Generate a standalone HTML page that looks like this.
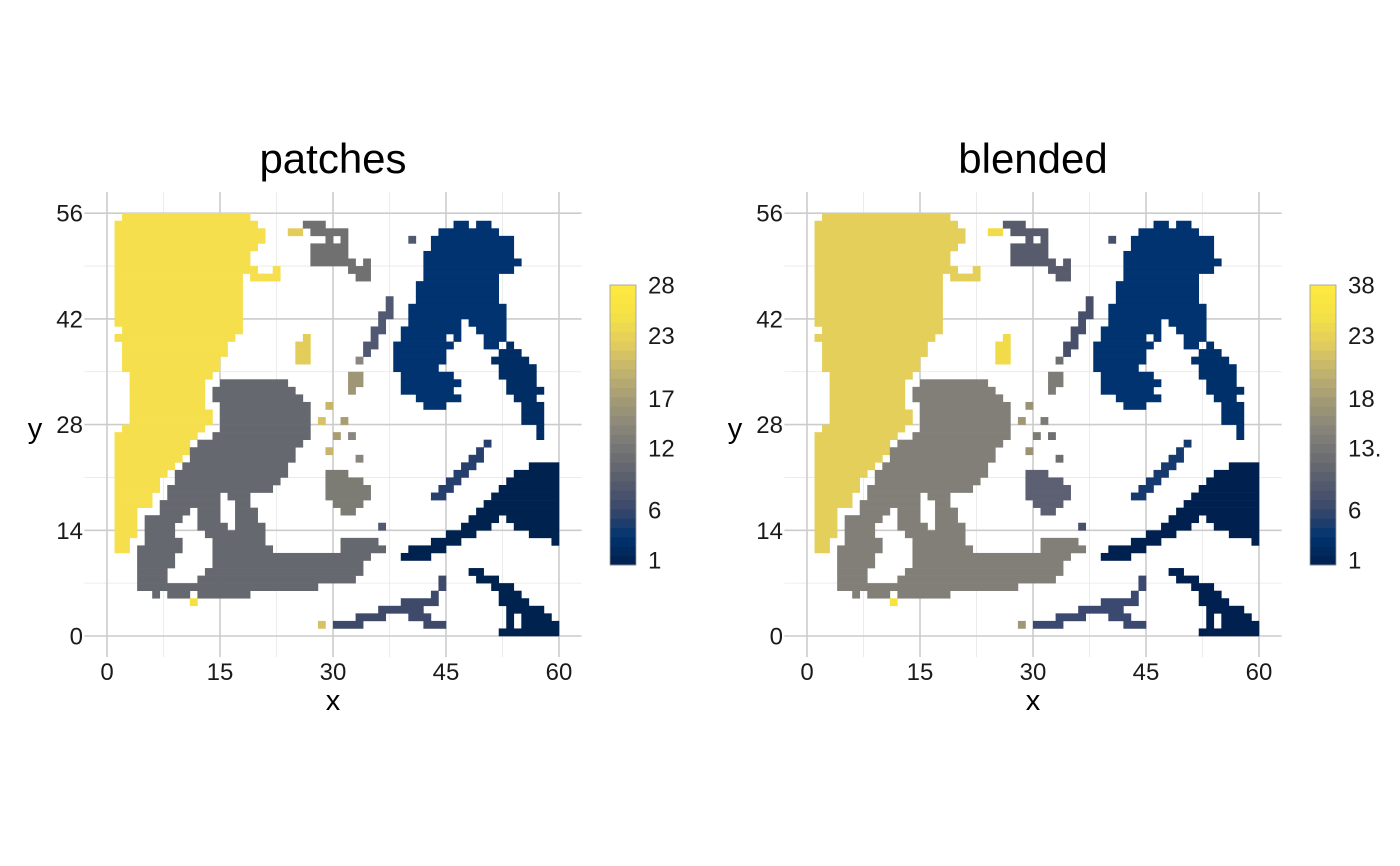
<!DOCTYPE html>
<html><head><meta charset="utf-8"><style>
html,body{margin:0;padding:0;background:#fff;}
svg{display:block;font-family:"Liberation Sans",sans-serif;}
</style></head><body>
<svg id="root" width="1400" height="866" viewBox="0 0 1400 866"></svg>
<script>
// ---- data ----
const panelTitles = ["patches", "blended"];
const xTicks = [0, 15, 30, 45, 60];
const yTicks = [0, 14, 28, 42, 56];
const legendLabelsA = ["28", "23", "17", "12", "6", "1"];
const legendLabelsB = ["38", "23", "18", "13.", "6", "1"];
const legendFrac = [1, 0.82, 0.595, 0.417, 0.196, 0.018];
// raster runs: [row(top=0), colStart, colEnd, patchCode]
const runs = [
[0,2,18,"Y"],
[1,1,19,"Y"],[1,26,28,"g"],[1,46,47,"N"],[1,49,50,"N"],
[2,1,20,"Y"],[2,24,25,"y"],[2,27,31,"g"],[2,44,51,"N"],
[3,1,20,"Y"],[3,29,29,"g"],[3,31,31,"g"],[3,40,40,"s"],[3,43,53,"N"],
[4,1,19,"Y"],[4,27,31,"g"],[4,43,53,"N"],
[5,1,18,"Y"],[5,27,31,"g"],[5,42,53,"N"],
[6,1,18,"Y"],[6,27,32,"g"],[6,34,34,"g"],[6,42,54,"N"],
[7,1,19,"Y"],[7,22,22,"Y"],[7,32,34,"g"],[7,42,53,"N"],
[8,1,17,"Y"],[8,19,22,"Y"],[8,33,34,"g"],[8,42,51,"N"],
[9,1,17,"Y"],[9,41,51,"N"],
[10,1,17,"Y"],[10,41,51,"N"],
[11,1,17,"Y"],[11,37,37,"s"],[11,41,51,"N"],
[12,1,17,"Y"],[12,37,37,"s"],[12,40,52,"N"],
[13,1,17,"Y"],[13,36,37,"s"],[13,40,52,"N"],
[14,1,17,"Y"],[14,36,36,"s"],[14,40,46,"N"],[14,48,52,"N"],
[15,2,17,"Y"],[15,35,36,"s"],[15,39,46,"N"],[15,49,52,"N"],
[16,1,16,"Y"],[16,26,26,"y"],[16,35,35,"s"],[16,39,44,"N"],[16,46,46,"N"],[16,50,52,"N"],
[17,2,15,"Y"],[17,25,26,"y"],[17,34,35,"s"],[17,38,45,"N"],[17,50,51,"N"],[17,53,53,"n"],
[18,2,15,"Y"],[18,25,26,"y"],[18,34,34,"s"],[18,38,44,"N"],[18,52,54,"n"],
[19,2,14,"Y"],[19,25,26,"y"],[19,33,33,"h"],[19,38,44,"N"],[19,51,55,"n"],
[20,2,14,"Y"],[20,38,43,"N"],[20,52,56,"n"],
[21,3,13,"Y"],[21,32,33,"f"],[21,39,45,"N"],[21,52,56,"n"],
[22,3,12,"Y"],[22,15,23,"G"],[22,32,33,"f"],[22,39,46,"N"],[22,53,56,"n"],
[23,3,12,"Y"],[23,14,24,"G"],[23,32,32,"f"],[23,39,45,"N"],[23,53,57,"n"],
[24,3,12,"Y"],[24,14,25,"G"],[24,41,46,"N"],[24,54,56,"n"],
[25,3,12,"Y"],[25,15,26,"G"],[25,29,29,"a"],[25,42,44,"N"],[25,55,57,"n"],
[26,3,13,"Y"],[26,15,26,"G"],[26,55,57,"n"],
[27,3,13,"Y"],[27,15,26,"G"],[27,28,28,"c"],[27,31,31,"b"],[27,55,57,"n"],
[28,2,12,"Y"],[28,15,26,"G"],[28,57,57,"n"],
[29,1,11,"Y"],[29,14,26,"G"],[29,30,30,"b"],[29,32,32,"h"],[29,57,57,"n"],
[30,1,10,"Y"],[30,12,25,"G"],[30,50,50,"S"],
[31,1,10,"Y"],[31,11,24,"G"],[31,29,29,"a"],[31,49,49,"S"],
[32,1,9,"Y"],[32,11,24,"G"],[32,33,33,"h"],[32,48,49,"S"],
[33,1,8,"Y"],[33,10,23,"G"],[33,47,48,"S"],[33,56,59,"D"],
[34,1,7,"Y"],[34,9,23,"G"],[34,29,31,"K"],[34,46,47,"S"],[34,54,59,"D"],
[35,1,6,"Y"],[35,9,22,"G"],[35,29,33,"K"],[35,45,46,"S"],[35,53,59,"D"],
[36,1,6,"Y"],[36,8,21,"G"],[36,29,34,"K"],[36,44,45,"S"],[36,52,59,"D"],
[37,1,5,"Y"],[37,8,14,"G"],[37,16,18,"G"],[37,29,34,"K"],[37,43,44,"S"],[37,51,59,"D"],
[38,1,5,"Y"],[38,7,14,"G"],[38,17,18,"G"],[38,30,33,"K"],[38,50,59,"D"],
[39,1,3,"Y"],[39,7,10,"G"],[39,12,14,"G"],[39,17,19,"G"],[39,31,32,"K"],[39,49,59,"D"],
[40,1,3,"Y"],[40,5,9,"G"],[40,12,14,"G"],[40,17,19,"G"],[40,48,51,"D"],[40,53,59,"D"],
[41,1,3,"Y"],[41,5,8,"G"],[41,12,15,"G"],[41,17,20,"G"],[41,36,36,"s"],[41,47,50,"D"],[41,54,59,"D"],
[42,1,3,"Y"],[42,5,8,"G"],[42,13,20,"G"],[42,45,48,"D"],[42,56,59,"D"],
[43,1,2,"Y"],[43,5,9,"G"],[43,14,20,"G"],[43,31,35,"G"],[43,43,46,"D"],[43,59,59,"D"],
[44,1,2,"Y"],[44,4,9,"G"],[44,14,21,"G"],[44,31,36,"G"],[44,40,44,"D"],
[45,4,8,"G"],[45,14,34,"G"],[45,39,42,"D"],
[46,4,8,"G"],[46,14,33,"G"],
[47,4,7,"G"],[47,13,33,"G"],[47,48,49,"D"],
[48,4,7,"G"],[48,12,32,"G"],[48,44,44,"B"],[48,49,51,"D"],
[49,4,27,"G"],[49,44,44,"B"],[49,51,53,"D"],
[50,6,6,"G"],[50,8,10,"G"],[50,12,18,"G"],[50,43,43,"B"],[50,52,54,"D"],
[51,11,11,"e"],[51,39,43,"B"],[51,52,55,"D"],
[52,36,41,"B"],[52,53,57,"D"],
[53,33,36,"B"],[53,40,42,"B"],[53,53,53,"D"],[53,55,58,"D"],
[54,28,28,"c"],[54,30,33,"B"],[54,42,44,"B"],[54,53,53,"D"],[54,55,59,"D"],
[55,52,59,"D"]
];
const patchColorsA = {Y:"#f5df4d",y:"#e3cd5a",g:"#707071",G:"#666870",K:"#7c7b74",s:"#515972",N:"#00336f",n:"#002d63",S:"#263f6c",D:"#00224f",B:"#3f4a6b",a:"#c8b46a",b:"#a89c70",c:"#d6c264",e:"#f5e040",f:"#9e9677",h:"#8a8680"};
const patchColorsB = {Y:"#e3cf5a",y:"#f2db48",g:"#575b6b",G:"#827f78",K:"#5c6072",s:"#474f6b",N:"#00336f",n:"#00306a",S:"#173a6e",D:"#002150",B:"#3b4870",a:"#9a9272",b:"#7c7b75",c:"#9e9677",e:"#f7e240",f:"#7d7c76",h:"#6f6f72"};
const cividisStops = ["#00204d","#00336f","#39486b","#575c6d","#707173","#8a8779","#a69d75","#c4b56c","#e4cf5b","#f6e244","#fde940"];

// ---- drawing ----
const NS = "http://www.w3.org/2000/svg";
const root = document.getElementById("root");
function mk(tag, attrs, parent){const e=document.createElementNS(NS,tag);for(const k in attrs)e.setAttribute(k,attrs[k]);(parent||root).appendChild(e);return e;}
function lerpHex(a,b,t){const pa=[1,3,5].map(i=>parseInt(a.substr(i,2),16)),pb=[1,3,5].map(i=>parseInt(b.substr(i,2),16));return "rgb("+pa.map((v,i)=>Math.round(v+(pb[i]-v)*t)).join(",")+")";}
function cividis(t){const n=cividisStops.length-1;const p=Math.min(n-1e-9,Math.max(0,t*n));const i=Math.floor(p);return lerpHex(cividisStops[i],cividisStops[i+1],p-i);}

function drawPanel(ox, title, colors, labels, idx){
  const g = mk("g",{});
  
  
  const sx = v => ox + 107 + v*7.533;
  const sy = v => 636 - v*7.55;
  for(let i=0;i<xTicks.length-1;i++){
    const v=(xTicks[i]+xTicks[i+1])/2;
    const l=mk("line",{x1:sx(v),x2:sx(v),y1:sy(-2.8),y2:sy(58.8),stroke:"#e8e8e8","stroke-width":0.8},g);
    
    
  }
  for(let i=0;i<yTicks.length-1;i++){
    const v=(yTicks[i]+yTicks[i+1])/2;
    const l=mk("line",{x1:sx(-3),x2:sx(63),y1:sy(v),y2:sy(v),stroke:"#e8e8e8","stroke-width":0.8},g);
    
    
  }
  xTicks.forEach(v=>{
    const l=mk("line",{x1:sx(v),x2:sx(v),y1:sy(-2.8),y2:sy(58.8),stroke:"#cccccc","stroke-width":1.6},g);
    
    
    const t=mk("text",{x:sx(v),y:680,"text-anchor":"middle","font-size":24,fill:"#1a1a1a"},g);
    t.textContent=v;
    
    
  });
  yTicks.forEach(v=>{
    const l=mk("line",{x1:sx(-3),x2:sx(63),y1:sy(v),y2:sy(v),stroke:"#cccccc","stroke-width":1.6},g);
    
    
    const t=mk("text",{x:ox+83,y:sy(v)+8.5,"text-anchor":"end","font-size":24,fill:"#1a1a1a"},g);
    t.textContent=v;
    
    
  });
  runs.forEach(r=>{
    const [row,c0,c1,code]=r;
    const x0=sx(c0), x1=sx(c1+1), y0=sy(56-row), y1=sy(55-row);
    const rc=mk("rect",{x:x0,y:y0,width:x1-x0+0.3,height:y1-y0+0.3,fill:colors[code]},g);
    
    
  });
  const tt=mk("text",{x:ox+333,y:173,"text-anchor":"middle","font-size":42,fill:"#000"},g);
  tt.textContent=title;
  
  
  const xt=mk("text",{x:ox+333,y:710,"text-anchor":"middle","font-size":29,fill:"#000"},g);
  xt.textContent="x";
  
  
  const yt=mk("text",{x:ox+35,y:438,"text-anchor":"middle","font-size":29,fill:"#000"},g);
  yt.textContent="y";
  
  
  const cb=mk("g",{},g);
  
  
  const bx=ox+610, bt=285, bb=565, n=30, bh=(bb-bt)/n;
  for(let i=0;i<n;i++){
    const r=mk("rect",{x:bx,y:bb-(i+1)*bh,width:26,height:bh+0.4,fill:cividis((i+0.5)/n)},cb);
    
    
  }
  const fr=mk("rect",{x:bx,y:bt,width:26,height:bb-bt,fill:"none",stroke:"#9a9a9a","stroke-width":0.8},cb);
  
  
  labels.forEach((lab,i)=>{
    const y=bb-legendFrac[i]*(bb-bt);
    const t=mk("text",{x:ox+648,y:y+8.5,"font-size":24,fill:"#1a1a1a"},cb);
    t.textContent=lab;
    
    
  });
}
drawPanel(0, panelTitles[0], patchColorsA, legendLabelsA, 0);
drawPanel(700, panelTitles[1], patchColorsB, legendLabelsB, 1);
</script>
</body></html>
